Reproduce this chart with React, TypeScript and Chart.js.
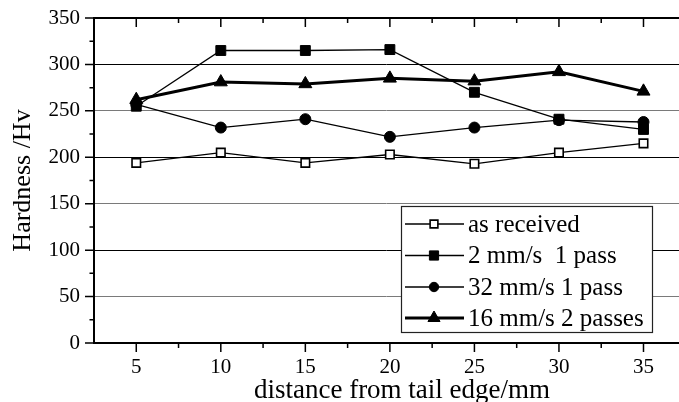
import React, { useEffect, useRef } from "react";
import { Chart, registerables } from "chart.js";
import { drawPoint } from "chart.js/helpers";

Chart.register(...registerables);

// ---- data ----
const distances = [5, 10, 15, 20, 25, 30, 35];
const asReceived = [194, 205, 194, 203, 193, 205, 215];
const twoMmOnePass = [255, 315, 315, 316, 270, 241, 230];
const thirtyTwoMmOnePass = [257, 232, 241, 222, 232, 240, 238];
const sixteenMmTwoPasses = [262, 281, 279, 285, 282, 292, 271];
const seriesLabels = ["as received", "2 mm/s  1 pass", "32 mm/s 1 pass", "16 mm/s 2 passes"];

const xMajorTicks = [5, 10, 15, 20, 25, 30, 35];
const xMinorTicks = [7.5, 12.5, 17.5, 22.5, 27.5, 32.5];
const yMajorTicks = [0, 50, 100, 150, 200, 250, 300, 350];
const yMinorTicks = [25, 75, 125, 175, 225, 275, 325];
const xTitle = "distance from tail edge/mm";
const yTitle = "Hardness /Hv";

const FONT = "'Liberation Serif', 'Times New Roman', serif";

const toPoints = (vals: number[]) => distances.map((x, i) => ({ x, y: vals[i] }));

const framePlugin = {
  id: "frame",
  beforeDatasetsDraw(chart: any) {
    const { ctx, chartArea: a, scales } = chart;
    const xs = scales.x;
    const ys = scales.y;
    ctx.save();
    ctx.strokeStyle = "#000";
    ctx.lineWidth = 2;
    ctx.beginPath();
    ctx.moveTo(a.left, a.top);
    ctx.lineTo(a.right, a.top);
    ctx.moveTo(a.left, a.top - 1);
    ctx.lineTo(a.left, a.bottom + 1);
    ctx.moveTo(a.left, a.bottom);
    ctx.lineTo(a.right, a.bottom);
    ctx.stroke();
    ctx.lineWidth = 1.5;
    ctx.beginPath();
    yMajorTicks.forEach((v) => {
      const p = ys.getPixelForValue(v);
      ctx.moveTo(a.left - 9, p);
      ctx.lineTo(a.left, p);
    });
    yMinorTicks.forEach((v) => {
      const p = ys.getPixelForValue(v);
      ctx.moveTo(a.left - 4.5, p);
      ctx.lineTo(a.left, p);
    });
    xMajorTicks.forEach((v) => {
      const p = xs.getPixelForValue(v);
      ctx.moveTo(p, a.bottom);
      ctx.lineTo(p, a.bottom + 9);
      ctx.moveTo(p, a.top);
      ctx.lineTo(p, a.top + 9);
    });
    xMinorTicks.forEach((v) => {
      const p = xs.getPixelForValue(v);
      ctx.moveTo(p, a.bottom);
      ctx.lineTo(p, a.bottom + 5);
      ctx.moveTo(p, a.top);
      ctx.lineTo(p, a.top + 5);
    });
    ctx.stroke();
    ctx.restore();
  },
  afterDraw(chart: any) {
    const { ctx, chartArea: a } = chart;
    ctx.save();
    // x axis title
    ctx.fillStyle = "#000";
    ctx.font = `27px ${FONT}`;
    ctx.textAlign = "center";
    ctx.textBaseline = "alphabetic";
    ctx.fillText(xTitle, 402, 398);

    // legend
    const bx = a.left + 307;
    const by = 206;
    const bw = 251;
    const bh = 126;
    ctx.fillStyle = "#fff";
    ctx.fillRect(bx, by, bw, bh);
    ctx.strokeStyle = "#222";
    ctx.lineWidth = 1.2;
    ctx.strokeRect(bx + 0.5, by + 0.5, bw, bh);
    const rowYs = [224, 255.5, 287, 318];
    chart.data.datasets.forEach((ds: any, i: number) => {
      const y = rowYs[i];
      ctx.strokeStyle = "#000";
      ctx.lineWidth = ds.borderWidth;
      ctx.beginPath();
      ctx.moveTo(bx + 4, y);
      ctx.lineTo(bx + 63, y);
      ctx.stroke();
      ctx.fillStyle = ds.pointBackgroundColor;
      ctx.strokeStyle = "#000";
      ctx.lineWidth = ds.pointBorderWidth;
      drawPoint(
        ctx,
        { pointStyle: ds.pointStyle, radius: ds.legendRadius, borderWidth: ds.pointBorderWidth, rotation: 0 },
        bx + 33,
        y
      );
      ctx.fillStyle = "#000";
      ctx.font = `25px ${FONT}`;
      ctx.textAlign = "left";
      ctx.textBaseline = "middle";
      ctx.fillText(seriesLabels[i], bx + 67, y + 1);
    });
    ctx.restore();
  },
};

export default function App() {
  const ref = useRef<HTMLCanvasElement | null>(null);
  useEffect(() => {
    if (!ref.current) return;
    const mk = (
      label: string,
      vals: number[],
      style: string,
      radius: number,
      legendRadius: number,
      bg: string,
      lw: number,
      order: number
    ) => ({
      label,
      data: toPoints(vals),
      borderColor: "#000",
      borderWidth: lw,
      pointStyle: style,
      pointRadius: radius,
      legendRadius,
      pointBackgroundColor: bg,
      pointBorderColor: "#000",
      pointBorderWidth: style === "rect" && bg === "#fff" ? 1.6 : 1,
      fill: false,
      tension: 0,
      order,
    });
    const chart = new Chart(ref.current, {
      type: "line",
      data: {
        datasets: [
          mk(seriesLabels[0], asReceived, "rect", 6, 5.5, "#fff", 1.3, 4),
          mk(seriesLabels[1], twoMmOnePass, "rect", 7, 6.5, "#000", 1.3, 3),
          mk(seriesLabels[2], thirtyTwoMmOnePass, "circle", 5.5, 4.7, "#000", 1.3, 2),
          mk(seriesLabels[3], sixteenMmTwoPasses, "triangle", 7.5, 7, "#000", 3, 1),
        ] as any,
      },
      options: {
        animation: false,
        responsive: false,
        events: [],
        layout: { autoPadding: false, padding: { top: 18, right: 0, left: 0, bottom: 0 } },
        plugins: { legend: { display: false }, tooltip: { enabled: false } },
        scales: {
          x: {
            type: "linear",
            min: 2.5,
            max: 37.1,
            afterBuildTicks: (axis: any) => {
              axis.ticks = xMajorTicks.map((v) => ({ value: v }));
            },
            afterFit: (axis: any) => {
              axis.height = 59;
              axis.paddingLeft = 0;
              axis.paddingRight = 0;
              axis.paddingTop = 0;
              axis.paddingBottom = 0;
            },
            grid: { display: false, drawTicks: false },
            border: { display: false },
            ticks: {
              color: "#000",
              font: { family: FONT, size: 21 },
              padding: 12,
              maxRotation: 0,
              autoSkip: false,
            },
          },
          y: {
            type: "linear",
            min: 0,
            max: 350,
            afterBuildTicks: (axis: any) => {
              axis.ticks = yMajorTicks.map((v) => ({ value: v }));
            },
            afterFit: (axis: any) => {
              axis.width = 94;
              axis.paddingLeft = 0;
              axis.paddingRight = 0;
              axis.paddingTop = 0;
              axis.paddingBottom = 0;
            },
            grid: {
              drawTicks: false,
              lineWidth: 1,
              color: (c: any) => {
                const v = c.tick ? c.tick.value : 0;
                if (v === 0 || v === 350) return "rgba(0,0,0,0)";
                return v % 100 === 0 ? "#000" : "#7a7a7a";
              },
            },
            border: { display: false },
            title: {
              display: true,
              text: yTitle,
              color: "#000",
              font: { family: FONT, size: 26 },
              padding: { top: 8, bottom: 0 },
            },
            ticks: {
              color: "#000",
              font: { family: FONT, size: 21 },
              padding: 14,
            },
          },
        },
      } as any,
      plugins: [framePlugin],
    });
    return () => chart.destroy();
  }, []);
  return (
    <div style={{ position: "absolute", left: 0, top: 0, width: 679, height: 402, background: "#fff" }}>
      <canvas ref={ref} width={679} height={402} style={{ display: "block", width: 679, height: 402 }} />
    </div>
  );
}
